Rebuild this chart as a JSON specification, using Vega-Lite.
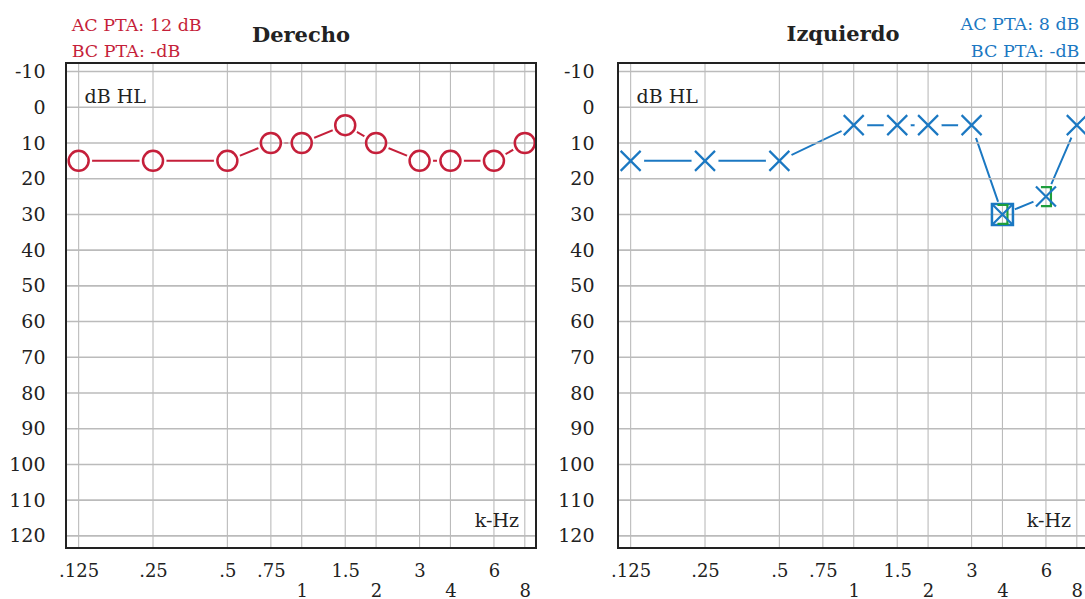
{
  "$schema": "https://vega.github.io/schema/vega-lite/v6.json",
  "background": "white",
  "padding": {"left": 7, "top": 15, "right": 0, "bottom": 0},
  "config": {
    "view": {"stroke": "#222222", "strokeWidth": 2},
    "style": {"cell": {"strokeForeground": true}},
    "font": "DejaVu Serif",
    "axisX": {
      "ticks": false, "domain": false, "grid": false,
      "labelFont": "DejaVu Serif", "labelFontSize": 18, "labelColor": "#222222",
      "labelBaseline": "top", "labelOverlap": false, "labelFlush": false, "labelBound": false
    },
    "axisY": {
      "labelPadding": 21,
      "ticks": false, "domain": false, "grid": false,
      "labelFont": "DejaVu Serif", "labelFontSize": 19, "labelColor": "#222222",
      "labelOverlap": false, "labelFlush": false
    }
  },
  "datasets": {
    "derecho": [
      {"freq": 0.125, "db": 15}, {"freq": 0.25, "db": 15}, {"freq": 0.5, "db": 15},
      {"freq": 0.75, "db": 10}, {"freq": 1, "db": 10}, {"freq": 1.5, "db": 5},
      {"freq": 2, "db": 10}, {"freq": 3, "db": 15}, {"freq": 4, "db": 15},
      {"freq": 6, "db": 15}, {"freq": 8, "db": 10}
    ],
    "izquierdo": [
      {"freq": 0.125, "db": 15}, {"freq": 0.25, "db": 15}, {"freq": 0.5, "db": 15},
      {"freq": 1, "db": 5}, {"freq": 1.5, "db": 5}, {"freq": 2, "db": 5},
      {"freq": 3, "db": 5}, {"freq": 4, "db": 30}, {"freq": 6, "db": 25},
      {"freq": 8, "db": 5}
    ],
    "izqMasked": [{"freq": 4, "db": 30}],
    "izqBC": [{"freq": 4, "db": 30}, {"freq": 6, "db": 25}],
    "gridX": [
      {"freq": 0.125}, {"freq": 0.25}, {"freq": 0.5}, {"freq": 0.75}, {"freq": 1},
      {"freq": 1.5}, {"freq": 2}, {"freq": 3}, {"freq": 4}, {"freq": 6}, {"freq": 8}
    ],
    "gridY": [
      {"db": -10}, {"db": 0}, {"db": 10}, {"db": 20}, {"db": 30}, {"db": 40}, {"db": 50},
      {"db": 60}, {"db": 70}, {"db": 80}, {"db": 90}, {"db": 100}, {"db": 110}, {"db": 120}
    ],
    "dbhl": [{"freq": 0.132, "db": -2.9, "label": "dB HL"}],
    "khz": [{"freq": 7.58, "db": 115.9, "label": "k-Hz"}],
    "ptaDer": [
      {"freq": 0.1171, "db": -22.8, "label": "AC PTA: 12 dB"},
      {"freq": 0.1171, "db": -15.5, "label": "BC PTA: -dB"}
    ],
    "ptaIzq": [
      {"freq": 8.2, "db": -23.0, "label": "AC PTA: 8 dB"},
      {"freq": 8.2, "db": -15.6, "label": "BC PTA: -dB"}
    ]
  },
  "spacing": 15,
  "hconcat": [
    {
      "width": 470,
      "height": 485,
      "title": {"text": "Derecho", "fontSize": 21, "fontWeight": "bold", "font": "DejaVu Serif", "color": "#222222", "offset": -46, "anchor": "middle", "frame": "group", "baseline": "alphabetic"},
      "layer": [
        {
          "data": {"name": "derecho"},
          "mark": {"type": "line", "color": "#c51f3a", "strokeWidth": 2},
          "encoding": {
            "x": {"field": "freq", "type": "quantitative", "title": null, "axis": {"values": [0.125, 0.25, 0.5, 0.75, 1, 1.5, 2, 3, 4, 6, 8], "labelExpr": "datum.value < 1 ? slice(toString(datum.value), 1) : toString(datum.value)", "labelOverlap": false, "labelPadding": {"condition": {"test": "datum.value == 1 || datum.value == 2 || datum.value == 4 || datum.value == 8", "value": 34}, "value": 14}}, "scale": {"type": "log", "base": 2, "domain": [0.1111, 8.88], "nice": false}},
            "y": {"field": "db", "type": "quantitative", "title": null, "axis": {"values": [-10, 0, 10, 20, 30, 40, 50, 60, 70, 80, 90, 100, 110, 120], "labelExpr": "toString(datum.value)", "labelPadding": 21}, "scale": {"domain": [-12.4, 123.4], "reverse": true, "nice": false, "zero": false}}
          }
        },
        {
          "data": {"name": "derecho"},
          "mark": {"type": "point", "shape": "circle", "filled": true, "fill": "white", "strokeWidth": 0, "size": 729, "opacity": 1},
          "encoding": {
            "x": {"field": "freq", "type": "quantitative", "title": null, "axis": {"values": [0.125, 0.25, 0.5, 0.75, 1, 1.5, 2, 3, 4, 6, 8], "labelExpr": "datum.value < 1 ? slice(toString(datum.value), 1) : toString(datum.value)", "labelOverlap": false, "labelPadding": {"condition": {"test": "datum.value == 1 || datum.value == 2 || datum.value == 4 || datum.value == 8", "value": 34}, "value": 14}}},
            "y": {"field": "db", "type": "quantitative", "title": null, "axis": {"values": [-10, 0, 10, 20, 30, 40, 50, 60, 70, 80, 90, 100, 110, 120], "labelExpr": "toString(datum.value)", "labelPadding": 21}}
          }
        },
        {
          "data": {"name": "gridX"},
          "mark": {"type": "rule", "color": "#bbbbbb", "strokeWidth": 1.1},
          "encoding": {"x": {"field": "freq", "type": "quantitative", "title": null, "axis": {"values": [0.125, 0.25, 0.5, 0.75, 1, 1.5, 2, 3, 4, 6, 8], "labelExpr": "datum.value < 1 ? slice(toString(datum.value), 1) : toString(datum.value)", "labelOverlap": false, "labelPadding": {"condition": {"test": "datum.value == 1 || datum.value == 2 || datum.value == 4 || datum.value == 8", "value": 34}, "value": 14}}}}
        },
        {
          "data": {"name": "gridY"},
          "mark": {"type": "rule", "color": "#bbbbbb", "strokeWidth": 1.6},
          "encoding": {"y": {"field": "db", "type": "quantitative", "title": null, "axis": {"values": [-10, 0, 10, 20, 30, 40, 50, 60, 70, 80, 90, 100, 110, 120], "labelExpr": "toString(datum.value)", "labelPadding": 21}}}
        },
        {
          "data": {"name": "derecho"},
          "mark": {"type": "point", "shape": "circle", "filled": false, "stroke": "#c51f3a", "strokeWidth": 2.5, "size": 400, "opacity": 1},
          "encoding": {
            "x": {"field": "freq", "type": "quantitative", "title": null, "axis": {"values": [0.125, 0.25, 0.5, 0.75, 1, 1.5, 2, 3, 4, 6, 8], "labelExpr": "datum.value < 1 ? slice(toString(datum.value), 1) : toString(datum.value)", "labelOverlap": false, "labelPadding": {"condition": {"test": "datum.value == 1 || datum.value == 2 || datum.value == 4 || datum.value == 8", "value": 34}, "value": 14}}},
            "y": {"field": "db", "type": "quantitative", "title": null, "axis": {"values": [-10, 0, 10, 20, 30, 40, 50, 60, 70, 80, 90, 100, 110, 120], "labelExpr": "toString(datum.value)", "labelPadding": 21}}
          }
        },
        {
          "data": {"name": "dbhl"},
          "mark": {"type": "text", "align": "left", "baseline": "middle", "fontSize": 19, "font": "DejaVu Serif", "color": "#222222"},
          "encoding": {
            "x": {"field": "freq", "type": "quantitative", "title": null, "axis": {"values": [0.125, 0.25, 0.5, 0.75, 1, 1.5, 2, 3, 4, 6, 8], "labelExpr": "datum.value < 1 ? slice(toString(datum.value), 1) : toString(datum.value)", "labelOverlap": false, "labelPadding": {"condition": {"test": "datum.value == 1 || datum.value == 2 || datum.value == 4 || datum.value == 8", "value": 34}, "value": 14}}},
            "y": {"field": "db", "type": "quantitative", "title": null, "axis": {"values": [-10, 0, 10, 20, 30, 40, 50, 60, 70, 80, 90, 100, 110, 120], "labelExpr": "toString(datum.value)", "labelPadding": 21}},
            "text": {"field": "label"}
          }
        },
        {
          "data": {"name": "khz"},
          "mark": {"type": "text", "align": "right", "baseline": "middle", "fontSize": 19, "font": "DejaVu Serif", "color": "#222222"},
          "encoding": {
            "x": {"field": "freq", "type": "quantitative", "title": null, "axis": {"values": [0.125, 0.25, 0.5, 0.75, 1, 1.5, 2, 3, 4, 6, 8], "labelExpr": "datum.value < 1 ? slice(toString(datum.value), 1) : toString(datum.value)", "labelOverlap": false, "labelPadding": {"condition": {"test": "datum.value == 1 || datum.value == 2 || datum.value == 4 || datum.value == 8", "value": 34}, "value": 14}}},
            "y": {"field": "db", "type": "quantitative", "title": null, "axis": {"values": [-10, 0, 10, 20, 30, 40, 50, 60, 70, 80, 90, 100, 110, 120], "labelExpr": "toString(datum.value)", "labelPadding": 21}},
            "text": {"field": "label"}
          }
        },
        {
          "data": {"name": "ptaDer"},
          "mark": {"type": "text", "align": "left", "baseline": "middle", "fontSize": 17.5, "font": "DejaVu Serif", "color": "#c51f3a"},
          "encoding": {
            "x": {"field": "freq", "type": "quantitative", "title": null, "axis": {"values": [0.125, 0.25, 0.5, 0.75, 1, 1.5, 2, 3, 4, 6, 8], "labelExpr": "datum.value < 1 ? slice(toString(datum.value), 1) : toString(datum.value)", "labelOverlap": false, "labelPadding": {"condition": {"test": "datum.value == 1 || datum.value == 2 || datum.value == 4 || datum.value == 8", "value": 34}, "value": 14}}},
            "y": {"field": "db", "type": "quantitative", "title": null, "axis": {"values": [-10, 0, 10, 20, 30, 40, 50, 60, 70, 80, 90, 100, 110, 120], "labelExpr": "toString(datum.value)", "labelPadding": 21}},
            "text": {"field": "label"}
          }
        }
      ]
    },
    {
      "width": 470,
      "height": 485,
      "title": {"text": "Izquierdo", "fontSize": 21, "fontWeight": "bold", "font": "DejaVu Serif", "color": "#222222", "offset": -46, "anchor": "middle", "frame": "group", "baseline": "alphabetic", "dx": -10},
      "layer": [
        {
          "data": {"name": "izquierdo"},
          "mark": {"type": "line", "color": "#1b78c2", "strokeWidth": 2},
          "encoding": {
            "x": {"field": "freq", "type": "quantitative", "title": null, "axis": {"values": [0.125, 0.25, 0.5, 0.75, 1, 1.5, 2, 3, 4, 6, 8], "labelExpr": "datum.value < 1 ? slice(toString(datum.value), 1) : toString(datum.value)", "labelOverlap": false, "labelPadding": {"condition": {"test": "datum.value == 1 || datum.value == 2 || datum.value == 4 || datum.value == 8", "value": 34}, "value": 14}}, "scale": {"type": "log", "base": 2, "domain": [0.1111, 8.88], "nice": false}},
            "y": {"field": "db", "type": "quantitative", "title": null, "axis": {"values": [-10, 0, 10, 20, 30, 40, 50, 60, 70, 80, 90, 100, 110, 120], "labelExpr": "toString(datum.value)", "labelPadding": 24}, "scale": {"domain": [-12.4, 123.4], "reverse": true, "nice": false, "zero": false}}
          }
        },
        {
          "data": {"name": "izquierdo"},
          "mark": {"type": "point", "shape": "circle", "filled": true, "fill": "white", "strokeWidth": 0, "size": 729, "opacity": 1},
          "encoding": {
            "x": {"field": "freq", "type": "quantitative", "title": null, "axis": {"values": [0.125, 0.25, 0.5, 0.75, 1, 1.5, 2, 3, 4, 6, 8], "labelExpr": "datum.value < 1 ? slice(toString(datum.value), 1) : toString(datum.value)", "labelOverlap": false, "labelPadding": {"condition": {"test": "datum.value == 1 || datum.value == 2 || datum.value == 4 || datum.value == 8", "value": 34}, "value": 14}}},
            "y": {"field": "db", "type": "quantitative", "title": null, "axis": {"values": [-10, 0, 10, 20, 30, 40, 50, 60, 70, 80, 90, 100, 110, 120], "labelExpr": "toString(datum.value)", "labelPadding": 24}}
          }
        },
        {
          "data": {"name": "gridX"},
          "mark": {"type": "rule", "color": "#bbbbbb", "strokeWidth": 1.1},
          "encoding": {"x": {"field": "freq", "type": "quantitative", "title": null, "axis": {"values": [0.125, 0.25, 0.5, 0.75, 1, 1.5, 2, 3, 4, 6, 8], "labelExpr": "datum.value < 1 ? slice(toString(datum.value), 1) : toString(datum.value)", "labelOverlap": false, "labelPadding": {"condition": {"test": "datum.value == 1 || datum.value == 2 || datum.value == 4 || datum.value == 8", "value": 34}, "value": 14}}}}
        },
        {
          "data": {"name": "gridY"},
          "mark": {"type": "rule", "color": "#bbbbbb", "strokeWidth": 1.6},
          "encoding": {"y": {"field": "db", "type": "quantitative", "title": null, "axis": {"values": [-10, 0, 10, 20, 30, 40, 50, 60, 70, 80, 90, 100, 110, 120], "labelExpr": "toString(datum.value)", "labelPadding": 24}}}
        },
        {
          "data": {"name": "izqMasked"},
          "mark": {"type": "point", "shape": "square", "filled": false, "stroke": "#1b78c2", "strokeWidth": 2.5, "size": 441, "opacity": 1},
          "encoding": {
            "x": {"field": "freq", "type": "quantitative", "title": null, "axis": {"values": [0.125, 0.25, 0.5, 0.75, 1, 1.5, 2, 3, 4, 6, 8], "labelExpr": "datum.value < 1 ? slice(toString(datum.value), 1) : toString(datum.value)", "labelOverlap": false, "labelPadding": {"condition": {"test": "datum.value == 1 || datum.value == 2 || datum.value == 4 || datum.value == 8", "value": 34}, "value": 14}}},
            "y": {"field": "db", "type": "quantitative", "title": null, "axis": {"values": [-10, 0, 10, 20, 30, 40, 50, 60, 70, 80, 90, 100, 110, 120], "labelExpr": "toString(datum.value)", "labelPadding": 24}}
          }
        },
        {
          "data": {"name": "izqBC"},
          "mark": {"type": "point", "shape": "M-0.5,-0.95L0.5,-0.95L0.5,0.95L-0.5,0.95", "filled": false, "stroke": "#1e9e3c", "strokeWidth": 2.2, "size": 400, "opacity": 1},
          "encoding": {
            "x": {"field": "freq", "type": "quantitative", "title": null, "axis": {"values": [0.125, 0.25, 0.5, 0.75, 1, 1.5, 2, 3, 4, 6, 8], "labelExpr": "datum.value < 1 ? slice(toString(datum.value), 1) : toString(datum.value)", "labelOverlap": false, "labelPadding": {"condition": {"test": "datum.value == 1 || datum.value == 2 || datum.value == 4 || datum.value == 8", "value": 34}, "value": 14}}},
            "y": {"field": "db", "type": "quantitative", "title": null, "axis": {"values": [-10, 0, 10, 20, 30, 40, 50, 60, 70, 80, 90, 100, 110, 120], "labelExpr": "toString(datum.value)", "labelPadding": 24}}
          }
        },
        {
          "data": {"name": "izquierdo"},
          "mark": {"type": "point", "shape": "M-1,-1L1,1M-1,1L1,-1", "filled": false, "stroke": "#1b78c2", "strokeWidth": 2.2, "size": 400, "opacity": 1},
          "encoding": {
            "x": {"field": "freq", "type": "quantitative", "title": null, "axis": {"values": [0.125, 0.25, 0.5, 0.75, 1, 1.5, 2, 3, 4, 6, 8], "labelExpr": "datum.value < 1 ? slice(toString(datum.value), 1) : toString(datum.value)", "labelOverlap": false, "labelPadding": {"condition": {"test": "datum.value == 1 || datum.value == 2 || datum.value == 4 || datum.value == 8", "value": 34}, "value": 14}}},
            "y": {"field": "db", "type": "quantitative", "title": null, "axis": {"values": [-10, 0, 10, 20, 30, 40, 50, 60, 70, 80, 90, 100, 110, 120], "labelExpr": "toString(datum.value)", "labelPadding": 24}}
          }
        },
        {
          "data": {"name": "dbhl"},
          "mark": {"type": "text", "align": "left", "baseline": "middle", "fontSize": 19, "font": "DejaVu Serif", "color": "#222222"},
          "encoding": {
            "x": {"field": "freq", "type": "quantitative", "title": null, "axis": {"values": [0.125, 0.25, 0.5, 0.75, 1, 1.5, 2, 3, 4, 6, 8], "labelExpr": "datum.value < 1 ? slice(toString(datum.value), 1) : toString(datum.value)", "labelOverlap": false, "labelPadding": {"condition": {"test": "datum.value == 1 || datum.value == 2 || datum.value == 4 || datum.value == 8", "value": 34}, "value": 14}}},
            "y": {"field": "db", "type": "quantitative", "title": null, "axis": {"values": [-10, 0, 10, 20, 30, 40, 50, 60, 70, 80, 90, 100, 110, 120], "labelExpr": "toString(datum.value)", "labelPadding": 24}},
            "text": {"field": "label"}
          }
        },
        {
          "data": {"name": "khz"},
          "mark": {"type": "text", "align": "right", "baseline": "middle", "fontSize": 19, "font": "DejaVu Serif", "color": "#222222"},
          "encoding": {
            "x": {"field": "freq", "type": "quantitative", "title": null, "axis": {"values": [0.125, 0.25, 0.5, 0.75, 1, 1.5, 2, 3, 4, 6, 8], "labelExpr": "datum.value < 1 ? slice(toString(datum.value), 1) : toString(datum.value)", "labelOverlap": false, "labelPadding": {"condition": {"test": "datum.value == 1 || datum.value == 2 || datum.value == 4 || datum.value == 8", "value": 34}, "value": 14}}},
            "y": {"field": "db", "type": "quantitative", "title": null, "axis": {"values": [-10, 0, 10, 20, 30, 40, 50, 60, 70, 80, 90, 100, 110, 120], "labelExpr": "toString(datum.value)", "labelPadding": 24}},
            "text": {"field": "label"}
          }
        },
        {
          "data": {"name": "ptaIzq"},
          "mark": {"type": "text", "align": "right", "baseline": "middle", "fontSize": 17.5, "font": "DejaVu Serif", "color": "#1b78c2"},
          "encoding": {
            "x": {"field": "freq", "type": "quantitative", "title": null, "axis": {"values": [0.125, 0.25, 0.5, 0.75, 1, 1.5, 2, 3, 4, 6, 8], "labelExpr": "datum.value < 1 ? slice(toString(datum.value), 1) : toString(datum.value)", "labelOverlap": false, "labelPadding": {"condition": {"test": "datum.value == 1 || datum.value == 2 || datum.value == 4 || datum.value == 8", "value": 34}, "value": 14}}},
            "y": {"field": "db", "type": "quantitative", "title": null, "axis": {"values": [-10, 0, 10, 20, 30, 40, 50, 60, 70, 80, 90, 100, 110, 120], "labelExpr": "toString(datum.value)", "labelPadding": 24}},
            "text": {"field": "label"}
          }
        }
      ]
    }
  ]
}
